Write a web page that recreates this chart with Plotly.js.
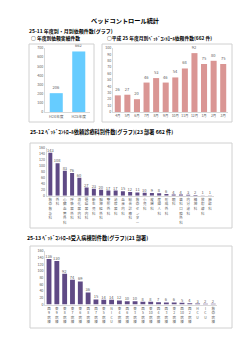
<!DOCTYPE html>
<html>
<head>
<meta charset="utf-8">
<script src="https://cdn.plot.ly/plotly-3.0.1.min.js"></script>
<style>
  html, body { margin: 0; padding: 0; background: #fff; }
  #chart { width: 250px; height: 353px; }
</style>
</head>
<body>
<div id="chart"></div>
<script>
// 年度別依頼実績件数
const yearLabels = ['H24年度', 'H25年度'];
const yearCounts = [206, 662];

// 平成25年度 月別依頼件数
const monthLabels = ['4月', '5月', '6月', '7月', '8月', '9月', '10月', '11月', '12月', '1月', '2月', '3月'];
const monthCounts = [26, 27, 20, 46, 53, 46, 54, 68, 92, 75, 80, 75];

// 依頼診療科別件数
const deptLabels = ['救命救急科', '外科', '心臓血管外科', '呼吸器外科', '消化器内科',
  '循環器内科', '新生児科', '脳神経外科', '整形外科', '泌尿器科', '血液内科',
  '総合診療科', '救命センター', '小児科', '皮膚科', '産婦人科', '形成外科', '眼科',
  '歯科口腔外科', '内分泌科', '精神科', '放射線科', '麻酔科'];
const deptCounts = [143, 108, 83, 76, 60, 27, 23, 20, 17, 17, 15, 12, 11, 10, 9, 8, 6, 4, 4, 3, 2, 1, 1];

// 受入病棟別件数
const wardLabels = ['西9病棟', '東9病棟', '東8病棟', '東7病棟', '東6病棟', '西8病棟',
  '西7病棟', '東5病棟', 'NICU', '東4病棟', '西6病棟', '東3病棟', '西5病棟',
  '東10病棟', '西4病棟', '西3病棟', '東2病棟', '西10病棟', '西2病棟', 'HCU', 'ICU', '救命病棟'];
const wardCounts = [136, 130, 92, 74, 69, 36, 15, 14, 14, 12, 10, 10, 8, 8, 7, 6, 6, 5, 4, 3, 2, 2];

const W = 250, H = 353;
const fx = x => x / W;          // pixel -> paper x
const fy = y => 1 - y / H;      // pixel -> paper y

// stack characters top-to-bottom, keeping digit runs together
const vertical = s => (s.match(/[0-9]+|./g) || []).join('<br>');

const FONT = 'Noto Sans CJK JP, Noto Sans, sans-serif';
const AXIS_GRAY = '#d9d9d9';
const TICK_COLOR = '#595959';

function barTrace(xs, ys, xa, ya, color, width) {
  return {
    type: 'bar', x: xs, y: ys, xaxis: xa, yaxis: ya,
    marker: { color: color, line: { width: 0 } },
    width: width,
    texttemplate: '%{y}', textposition: 'outside', textangle: 0,
    constraintext: 'none', cliponaxis: false,
    textfont: { family: FONT, size: 4, color: TICK_COLOR },
    hoverinfo: 'skip'
  };
}

const data = [
  barTrace(yearLabels, yearCounts, 'x', 'y', '#66ccff', 0.58),
  barTrace(monthLabels, monthCounts, 'x2', 'y2', '#da9694', 0.63),
  barTrace(deptLabels.map(vertical), deptCounts, 'x3', 'y3', '#5f4a85', 0.55),
  barTrace(wardLabels.map(vertical), wardCounts, 'x4', 'y4', '#5f4a85', 0.62)
];

function xAxis(domain, anchor, size) {
  return {
    domain: domain, anchor: anchor, type: 'category',
    showline: true, linecolor: AXIS_GRAY, linewidth: 1,
    ticks: '', showgrid: false, zeroline: false, fixedrange: true,
    tickfont: { family: FONT, size: size, color: TICK_COLOR },
    tickangle: 0, automargin: false
  };
}
function yAxis(domain, anchor, max, step) {
  return {
    domain: domain, anchor: anchor, range: [0, max], dtick: step,
    showline: true, linecolor: AXIS_GRAY, linewidth: 1,
    ticks: '', showgrid: false, zeroline: false, fixedrange: true,
    tickfont: { family: FONT, size: 3.6, color: TICK_COLOR },
    automargin: false
  };
}

function box(x0, y0, x1, y1) {
  return {
    type: 'rect', xref: 'paper', yref: 'paper',
    x0: fx(x0), x1: fx(x1), y0: fy(y1), y1: fy(y0),
    line: { color: '#d0d0d0', width: 1 }, fillcolor: 'rgba(0,0,0,0)'
  };
}

function label(text, x, y, size, anchor) {
  return {
    text: text, xref: 'paper', yref: 'paper', x: fx(x), y: fy(y),
    xanchor: anchor || 'left', yanchor: 'middle', showarrow: false,
    font: { family: FONT, size: size, color: '#000' }
  };
}

const layout = {
  width: W, height: H,
  margin: { l: 0, r: 0, t: 0, b: 0 },
  paper_bgcolor: '#fff', plot_bgcolor: '#fff',
  showlegend: false,
  font: { family: FONT },
  xaxis: xAxis([fx(45), fx(90)], 'y', 3.8),
  yaxis: yAxis([fy(112), fy(48)], 'x', 700, 100),
  xaxis2: xAxis([fx(113), fx(228)], 'y2', 3.4),
  yaxis2: yAxis([fy(112), fy(48)], 'x2', 100, 10),
  xaxis3: xAxis([fx(46.7), fx(213.6)], 'y3', 3.5),
  yaxis3: yAxis([fy(195.7), fy(147.7)], 'x3', 160, 20),
  xaxis4: xAxis([fx(45.1), fx(217.2)], 'y4', 3.5),
  yaxis4: yAxis([fy(304.5), fy(251)], 'x4', 160, 20),
  shapes: [
    box(29, 44, 94, 122),
    box(102, 44, 232, 122),
    box(30, 143, 232, 228),
    box(30, 246, 232, 328)
  ],
  annotations: [
    label('<b>ベッドコントロール統計</b>', 125, 20, 6.2, 'center'),
    label('<b>25-11 年度別・月別依頼件数(グラフ)</b>', 27, 31, 5),
    label('<b>○ 年度別依頼実績件数</b>', 29, 38, 4.8),
    label('<b>○平成 25 年度月別ﾍﾞｯﾄﾞｺﾝﾄﾛｰﾙ依頼件数(662 件)</b>', 105, 38, 4.8),
    label('<b>25-12 ﾍﾞｯﾄﾞｺﾝﾄﾛｰﾙ依頼診療科別件数(グラフ)(23 部署 662 件)</b>', 28, 132, 5.2),
    label('<b>25-13 ﾍﾞｯﾄﾞｺﾝﾄﾛｰﾙ受入病棟別件数(グラフ)(21 部署)</b>', 25, 238, 5.2)
  ]
};

Plotly.newPlot('chart', data, layout, { staticPlot: true, displayModeBar: false });
</script>
</body>
</html>
